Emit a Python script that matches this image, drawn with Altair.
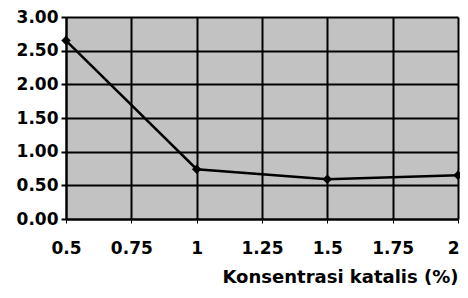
import altair as alt
import pandas as pd

konsentrasi = [0.5, 1.0, 1.5, 2.0]
nilai = [2.65, 0.74, 0.59, 0.65]
x_ticks = [0.5, 0.75, 1.0, 1.25, 1.5, 1.75, 2.0]
y_ticks = [0.0, 0.5, 1.0, 1.5, 2.0, 2.5, 3.0]

df = pd.DataFrame({"k": konsentrasi, "v": nilai})

FONT = "DejaVu Sans"

x = alt.X("k:Q", scale=alt.Scale(domain=[0.5, 2.0], nice=False),
          axis=alt.Axis(values=x_ticks, format=".3~g", title="Konsentrasi katalis (%)",
                        titleAnchor="end", titleAlign="right", titleFontSize=18,
                        titleFont=FONT, titleFontWeight="bold", titlePadding=12,
                        labelFont=FONT, labelFontSize=17, labelFontWeight="bold",
                        labelAlign={"expr": "datum.value == 2 ? 'right' : 'center'"},
                        labelOffset={"expr": "datum.value == 2 ? 1 : 0"},
                        labelPadding=17, tickSize=4, tickColor="black",
                        domainColor="black", domainWidth=2, labelColor="black",
                        titleColor="black", gridColor="black", gridWidth=2,
                        labelFlush=False))
y = alt.Y("v:Q", scale=alt.Scale(domain=[0, 3], nice=False),
          axis=alt.Axis(values=y_ticks, format=".2f", title=None,
                        labelFont=FONT, labelFontSize=17, labelFontWeight="bold",
                        labelPadding=3, tickSize=5, tickColor="black", tickWidth=2,
                        domainColor="black", domainWidth=2, labelColor="black",
                        gridColor="black", gridWidth=2, labelFlush=False))

line = alt.Chart(df).mark_line(color="black", strokeWidth=2.5).encode(x=x, y=y)
pts = alt.Chart(df).mark_point(shape="diamond", filled=True, color="black", size=90, opacity=1).encode(x=x, y=y)

chart = (line + pts).properties(
    width=392, height=202,
    background="white",
    autosize=alt.AutoSizeParams(type="none"),
    padding={"left": 58, "top": 9, "right": 2, "bottom": 69},
).configure_view(fill="#c2c2c2", stroke=None)

chart.save("out.html", embed_options={"renderer": "svg", "actions": False})
